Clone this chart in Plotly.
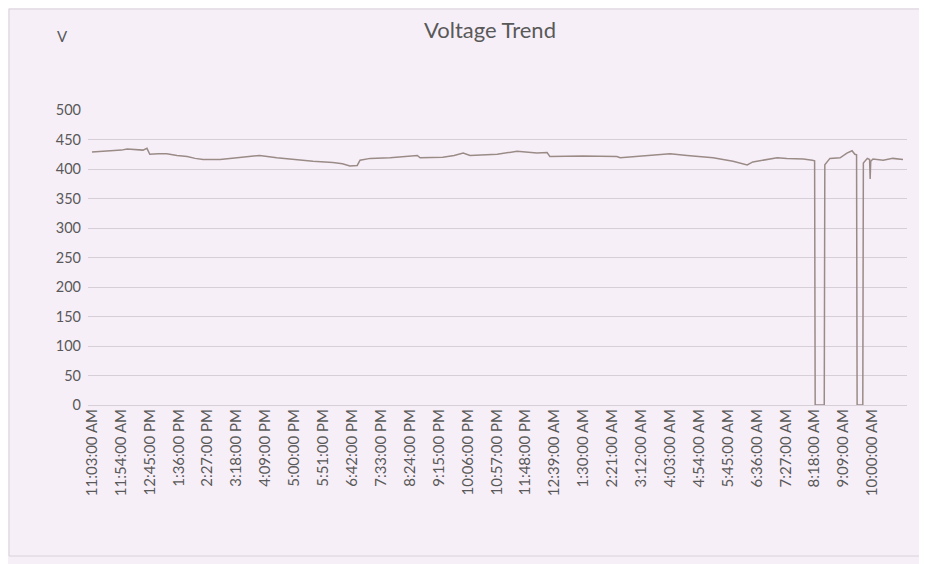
import plotly.graph_objects as go
from datetime import datetime, timedelta

# ---- data ----
tick_labels = ["11:03:00 AM", "11:54:00 AM", "12:45:00 PM", "1:36:00 PM", "2:27:00 PM",
               "3:18:00 PM", "4:09:00 PM", "5:00:00 PM", "5:51:00 PM", "6:42:00 PM",
               "7:33:00 PM", "8:24:00 PM", "9:15:00 PM", "10:06:00 PM", "10:57:00 PM",
               "11:48:00 PM", "12:39:00 AM", "1:30:00 AM", "2:21:00 AM", "3:12:00 AM",
               "4:03:00 AM", "4:54:00 AM", "5:45:00 AM", "6:36:00 AM", "7:27:00 AM",
               "8:18:00 AM", "9:09:00 AM", "10:00:00 AM"]

# (day, "HH:MM") sample times and voltage readings
times = [(1, "11:03"), (1, "11:20"), (1, "11:40"), (1, "11:55"), (1, "12:05"), (1, "12:20"),
         (1, "12:33"), (1, "12:40"), (1, "12:45"), (1, "13:00"), (1, "13:15"), (1, "13:33"),
         (1, "13:51"), (1, "14:05"), (1, "14:19"), (1, "14:49"), (1, "15:03"), (1, "15:19"),
         (1, "15:40"), (1, "15:59"), (1, "16:29"), (1, "16:58"), (1, "17:15"), (1, "17:33"),
         (1, "18:08"), (1, "18:25"), (1, "18:38"), (1, "18:51"), (1, "18:56"), (1, "19:14"),
         (1, "19:49"), (1, "20:15"), (1, "20:37"), (1, "20:42"), (1, "21:22"), (1, "21:42"),
         (1, "21:58"), (1, "22:10"), (1, "22:58"), (1, "23:33"), (2, "00:08"), (2, "00:26"),
         (2, "00:31"), (2, "01:29"), (2, "02:29"), (2, "02:35"), (2, "03:33"), (2, "04:03"),
         (2, "04:33"), (2, "05:19"), (2, "05:54"), (2, "06:19"), (2, "06:29"), (2, "06:54"),
         (2, "07:12"), (2, "07:29"), (2, "07:58"), (2, "08:14"), (2, "08:18"), (2, "08:19"),
         (2, "08:35"), (2, "08:36"), (2, "08:45"), (2, "09:03"), (2, "09:15"), (2, "09:24"),
         (2, "09:29"), (2, "09:32"), (2, "09:33"), (2, "09:43"), (2, "09:44"), (2, "09:51"),
         (2, "09:55"), (2, "09:56"), (2, "09:57"), (2, "10:01"), (2, "10:19"), (2, "10:36"),
         (2, "10:54")]
volts = [429, 430, 430, 432, 434, 433, 432, 435, 425, 426, 426, 423, 421, 418, 416, 416, 418,
         419, 421, 423, 419, 416, 415, 413, 411, 409, 405, 406, 415, 418, 419, 421, 423, 419,
         420, 423, 427, 423, 425, 430, 427, 428, 421, 422, 421, 419, 423, 426, 423, 419, 413,
         407, 412, 416, 419, 418, 417, 415, 414, 0, 0, 407, 418, 419, 427, 431, 425, 424, 0,
         0, 410, 418, 416, 383, 413, 417, 415, 418, 416]

# ---- build ----
base = datetime(2024, 1, 1)


def to_dt(day, hhmm):
    h, m = map(int, hhmm.split(":"))
    return base + timedelta(days=day - 1, hours=h, minutes=m)


def label_to_dt(lbl):
    t = datetime.strptime(lbl, "%I:%M:%S %p")
    day = 1 if (t.hour >= 11 and "AM" in lbl) or "PM" in lbl else 2
    return base + timedelta(days=day - 1, hours=t.hour, minutes=t.minute)


x = [to_dt(d, s) for d, s in times]
tickvals = [label_to_dt(l) for l in tick_labels]

BG = "#F7EFF8"
TXT = "#595959"
GRID = "#D6CFD8"

W, H = 919, 556
L, R, T, B = 80, 20, 102, 159
PW, PH = W - L - R, H - T - B

fig = go.Figure()
fig.add_trace(go.Scatter(x=x, y=volts, mode="lines",
                         line=dict(color="#9A8B86", width=1.5), showlegend=False,
                         hoverinfo="skip"))

fig.update_layout(
    width=W, height=H,
    paper_bgcolor=BG, plot_bgcolor=BG,
    margin=dict(l=L, r=R, t=T, b=B),
    font=dict(family="Lato, Open Sans, sans-serif", color=TXT, size=13),
    title=dict(text="Voltage Trend", x=482 / W, xref="container", xanchor="center",
               y=1 - 22 / H, yref="container", yanchor="middle",
               font=dict(size=22, color=TXT, family="Lato, Open Sans, sans-serif")),
    xaxis=dict(type="date",
               range=[base + timedelta(hours=10, minutes=56),
                      base + timedelta(days=1, hours=11, minutes=1)],
               tickmode="array", tickvals=tickvals, ticktext=tick_labels,
               tickangle=-90, showgrid=False, zeroline=False, showline=False,
               ticks="", tickfont=dict(size=15, color=TXT)),
    yaxis=dict(range=[0, 500], tickmode="array",
               tickvals=[0, 50, 100, 150, 200, 250, 300, 350, 400, 450, 500],
               showgrid=True, gridcolor=GRID, gridwidth=1, zeroline=True,
               zerolinecolor=GRID, zerolinewidth=1, showline=False, ticks="",
               tickfont=dict(size=14.5, color=TXT), ticklabelstandoff=6),
    annotations=[dict(text="V", xref="paper", yref="paper", x=(54 - L) / PW,
                      y=1 + (T - 28) / PH, xanchor="center", yanchor="middle",
                      showarrow=False, font=dict(size=15, color=TXT))],
    shapes=[dict(type="rect", xref="paper", yref="paper",
                 x0=(1 - L) / PW, x1=(W - 4 - L) / PW,
                 y0=-(H - 8 - (T + PH)) / PH, y1=1 + (T - 1) / PH,
                 line=dict(color="#DAD2DA", width=1), fillcolor="rgba(0,0,0,0)",
                 layer="below")],
)

fig.write_html("out.html")
